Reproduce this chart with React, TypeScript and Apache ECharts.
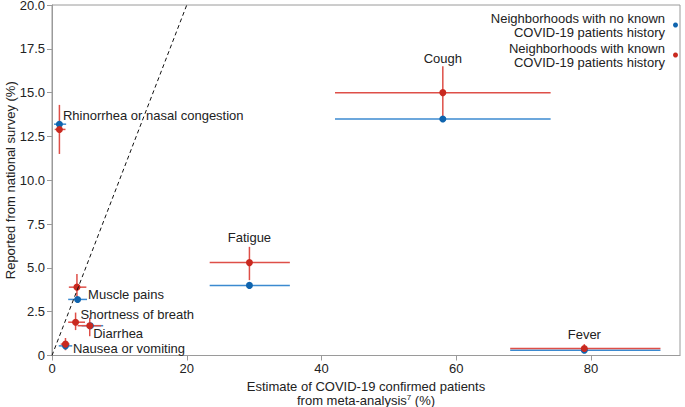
import React, { useEffect, useRef } from "react";
import * as echarts from "echarts";

// Symptoms (order shared by all arrays)
const symptoms = [
  "Rhinorrhea or nasal congestion",
  "Cough",
  "Fatigue",
  "Muscle pains",
  "Shortness of breath",
  "Diarrhea",
  "Nausea or vomiting",
  "Fever",
];

const seriesNames = [
  "Neighborhoods with no known\nCOVID-19 patients history",
  "Neighborhoods with known\nCOVID-19 patients history",
];

// No known COVID-19 history (blue): meta-analysis estimate with CI, national survey value
const blueX = [1.1, 58.0, 29.3, 3.8, null, 5.7, 2.0, 79.0];
const blueXLow = [0.3, 42.0, 23.4, 2.4, null, 4.4, 1.0, 68.0];
const blueXHigh = [2.1, 74.0, 35.3, 5.2, null, 7.6, 3.0, 90.3];
const blueY = [13.2, 13.5, 4.0, 3.2, null, 1.7, 0.55, 0.3];

// Known COVID-19 history (red)
const redX = [1.1, 58.0, 29.3, 3.7, 3.5, 5.6, 2.0, 79.0];
const redXLow = [0.4, 42.0, 23.4, 2.5, 2.4, 3.8, 1.3, 68.0];
const redXHigh = [2.0, 74.0, 35.3, 5.1, 4.9, 7.3, 2.6, 90.3];
const redY = [12.9, 15.0, 5.3, 3.9, 1.9, 1.7, 0.65, 0.4];
const redYLow = [11.5, 13.5, 4.3, 3.25, 1.45, 1.1, 0.3, 0.22];
const redYHigh = [14.3, 16.5, 6.2, 4.65, 2.45, 2.15, 1.0, 0.65];

// Identity reference line
const identityLine = [
  [0, 0],
  [21, 21],
];

const xTicks = { min: 0, max: 93.2, interval: 20 };
const yTicks = { min: 0, max: 20, interval: 2.5 };

// label placement per symptom: which series carries it, and how it's placed
const labelCfg: Record<string, any> = {
  "Rhinorrhea or nasal congestion": { on: "blue", position: "right", distance: 0, offset: [0, -9] },
  Cough: { on: "red", position: "top", distance: 25, offset: [0, 0] },
  Fatigue: { on: "red", position: "top", distance: 16, offset: [0, 0] },
  "Muscle pains": { on: "blue", position: "right", distance: 7, offset: [0, -5] },
  "Shortness of breath": { on: "red", position: "right", distance: 1.5, offset: [0, -8] },
  Diarrhea: { on: "red", position: "right", distance: 0, offset: [0, 8] },
  "Nausea or vomiting": { on: "red", position: "right", distance: 4, offset: [0, 4] },
  Fever: { on: "red", position: "top", distance: 5, offset: [0, 0] },
};

const FONT = "Liberation Sans, Arial, Helvetica, sans-serif";
const TEXT = "#222";
const BLUE = "#0f64ae";
const BLUE_BAR = "#3b8ad0";
const RED = "#c9291f";
const RED_BAR = "#de4f48";

function errorData(xs: any[], ys: any[], xl: any[], xh: any[], yl: any[] | null, yh: any[] | null) {
  const out: any[] = [];
  xs.forEach((x, i) => {
    if (x == null || ys[i] == null) return;
    out.push([x, ys[i], xl[i], xh[i], yl ? yl[i] : ys[i], yh ? yh[i] : ys[i]]);
  });
  return out;
}

function pointData(xs: any[], ys: any[], who: string) {
  const out: any[] = [];
  xs.forEach((x, i) => {
    if (x == null || ys[i] == null) return;
    const name = symptoms[i];
    const cfg = labelCfg[name];
    const item: any = { value: [x, ys[i]], name };
    if (cfg && cfg.on === who) {
      item.label = {
        show: true,
        formatter: name,
        position: cfg.position,
        distance: cfg.distance,
        offset: cfg.offset,
        color: TEXT,
        fontSize: 13,
        lineHeight: 11,
        fontFamily: FONT,
      };
    }
    out.push(item);
  });
  return out;
}

function errRender(color: string) {
  return (params: any, api: any) => {
    const x = api.value(0);
    const y = api.value(1);
    const xl = api.value(2);
    const xh = api.value(3);
    const yl = api.value(4);
    const yh = api.value(5);
    const pL = api.coord([xl, y]);
    const pR = api.coord([xh, y]);
    const pB = api.coord([x, yl]);
    const pT = api.coord([x, yh]);
    const style = { stroke: color, lineWidth: 1.5 };
    return {
      type: "group",
      children: [
        { type: "line", shape: { x1: pL[0], y1: pL[1], x2: pR[0], y2: pR[1] }, style },
        { type: "line", shape: { x1: pB[0], y1: pB[1], x2: pT[0], y2: pT[1] }, style },
      ],
    };
  };
}

export default function App() {
  const ref = useRef<HTMLDivElement>(null);
  useEffect(() => {
    document.body.style.margin = "0";
    const chart = echarts.init(ref.current!, null, { renderer: "svg" });
    const option: any = {
      animation: false,
      textStyle: { fontFamily: FONT },
      grid: {
        left: 52,
        right: 5,
        top: 5,
        bottom: 51.5,
        containLabel: false,
        outerBoundsMode: "none",
        show: true,
        borderColor: "#9a9a9a",
        borderWidth: 1,
      },
      legend: {
        orient: "vertical",
        right: 7,
        top: 11,
        padding: 0,
        align: "right",
        icon: "circle",
        itemWidth: 5,
        itemHeight: 5,
        itemGap: 2,
        data: seriesNames,
        textStyle: {
          fontSize: 13,
          lineHeight: 14,
          color: TEXT,
          fontFamily: FONT,
          align: "right",
          padding: [0, 3, 0, 0],
        },
      },
      xAxis: {
        type: "value",
        min: xTicks.min,
        max: xTicks.max,
        interval: xTicks.interval,
        name: "Estimate of COVID-19 confirmed patients\nfrom meta-analysis{sup|7} (%)",
        nameLocation: "middle",
        nameGap: 24,
        nameMoveOverlap: false,
        nameTextStyle: {
          fontSize: 13,
          lineHeight: 14,
          color: TEXT,
          fontFamily: FONT,
          rich: { sup: { fontSize: 8, verticalAlign: "top", lineHeight: 10, color: TEXT, padding: [0, 0, 6, 0] } },
        },
        axisLine: { show: true, lineStyle: { color: "#9a9a9a" } },
        axisTick: { show: true, length: 5, lineStyle: { color: "#9a9a9a" } },
        axisLabel: { color: TEXT, fontSize: 13, margin: 6, showMaxLabel: false, fontFamily: FONT },
        splitLine: { show: false },
      },
      yAxis: {
        type: "value",
        min: yTicks.min,
        max: yTicks.max,
        interval: yTicks.interval,
        name: "Reported from national survey (%)",
        nameLocation: "middle",
        nameGap: 35,
        nameMoveOverlap: false,
        nameTextStyle: { fontSize: 13, color: TEXT, fontFamily: FONT },
        axisLine: { show: true, lineStyle: { color: "#9a9a9a" } },
        axisTick: { show: true, length: 5, lineStyle: { color: "#9a9a9a" } },
        axisLabel: {
          color: TEXT,
          fontSize: 13,
          lineHeight: 10,
          margin: 7,
          fontFamily: FONT,
          formatter: (v: number) => (v === 0 ? "0" : v.toFixed(1)),
        },
        splitLine: { show: false },
      },
      series: [
        {
          type: "line",
          data: identityLine,
          symbol: "none",
          silent: true,
          clip: true,
          lineStyle: { color: "#111", width: 1, type: [4, 3] },
        },
        {
          type: "custom",
          renderItem: errRender(BLUE_BAR),
          data: errorData(blueX, blueY, blueXLow, blueXHigh, null, null),
          encode: { x: 0, y: 1 },
          silent: true,
        },
        {
          type: "scatter",
          name: seriesNames[0],
          symbolSize: 7,
          itemStyle: { color: BLUE, opacity: 1 },
          data: pointData(blueX, blueY, "blue"),
        },
        {
          type: "custom",
          renderItem: errRender(RED_BAR),
          data: errorData(redX, redY, redXLow, redXHigh, redYLow, redYHigh),
          encode: { x: 0, y: 1 },
          silent: true,
        },
        {
          type: "scatter",
          name: seriesNames[1],
          symbolSize: 7,
          itemStyle: { color: RED, opacity: 1 },
          data: pointData(redX, redY, "red"),
        },
      ],
    };
    chart.setOption(option);
    return () => chart.dispose();
  }, []);
  return <div ref={ref} style={{ width: 685, height: 407 }} />;
}
